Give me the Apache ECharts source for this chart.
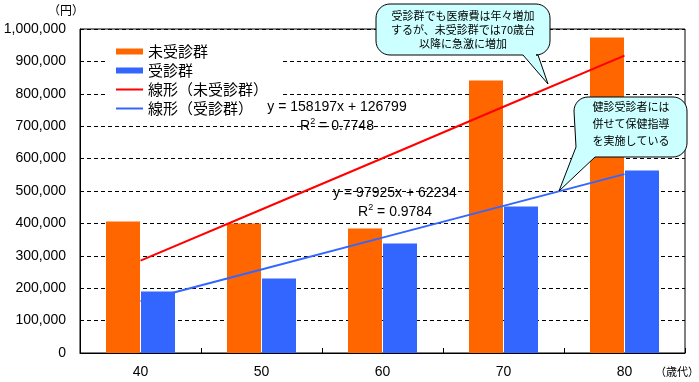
<!DOCTYPE html>
<html><head><meta charset="utf-8">
<script src="https://cdn.jsdelivr.net/npm/echarts@6/dist/echarts.min.js"></script>
<style>html,body{margin:0;padding:0;background:#fff}#c{width:699px;height:382px}</style>
</head><body><div id="c"></div>
<script>
// ---- data ----
const categories = ['40', '50', '60', '70', '80'];
const unexamined = [406000, 400000, 384000, 841000, 974000];
const examined = [190000, 230000, 338000, 452000, 563000];
const trendUnexamined = [285000, 443000, 601000, 760000, 918000];
const trendExamined = [160000, 258000, 356000, 454000, 552000];
const seriesNames = ['未受診群', '受診群', '線形（未受診群）', '線形（受診群）'];
const yMin = 0, yMax = 1000000, yStep = 100000;
const yUnit = '（円）';
const xUnit = '（歳代）';
const eqUnexamined = ['y = 158197x + 126799', '0.7748'];
const eqExamined = ['y = 97925x + 62234', '0.9784'];
const note1 = ['受診群でも医療費は年々増加', 'するが、未受診群では70歳台', '以降に急激に増加'];
const note2 = ['健診受診者には', '併せて保健指導', 'を実施している'];

const JP = '"Noto Sans CJK JP", sans-serif';
const NUM = '"Liberation Sans", Arial, sans-serif';

function commas(v) { return String(v).replace(/\B(?=(\d{3})+(?!\d))/g, ','); }

function arc(cx, cy, r, a0, a1) {
  const pts = [];
  const n = 8;
  for (let i = 0; i <= n; i++) {
    const a = (a0 + (a1 - a0) * i / n) * Math.PI / 180;
    pts.push([cx + r * Math.cos(a), cy + r * Math.sin(a)]);
  }
  return pts;
}

function bubble1() {
  const x0 = 376, y0 = 4, x1 = 550, y1 = 55, r = 14;
  return [].concat(
    arc(x1 - r, y0 + r, r, -90, 0),
    arc(x1 - r, y1 - r, r, 0, 90),
    [[538, y1], [548, 84], [523, y1]],
    arc(x0 + r, y1 - r, r, 90, 180),
    arc(x0 + r, y0 + r, r, 180, 270)
  );
}
function bubble2() {
  const x0 = 574, y0 = 97, x1 = 687, y1 = 157, r = 14;
  return [].concat(
    arc(x1 - r, y0 + r, r, -90, 0),
    arc(x1 - r, y1 - r, r, 0, 90),
    [[595, y1], [559, 191], [576, 147]],
    arc(x0 + r, y0 + r, r, 180, 270)
  );
}

const chart = echarts.init(document.getElementById('c'), null, {renderer: 'canvas'});

function eqText(x, y, lines) {
  return [
    {type: 'text', x: x, y: y, z: 50, style: {text: lines[0], font: '14px ' + NUM, fill: '#000', align: 'center', verticalAlign: 'middle'}},
    {type: 'text', x: x, y: y + 19, z: 50, style: {
      text: '{a|R}{s|2}{a| = ' + lines[1] + '}', align: 'center', verticalAlign: 'middle',
      rich: {a: {fontSize: 14, fontFamily: NUM, color: '#000'}, s: {fontSize: 9, fontFamily: NUM, color: '#000', verticalAlign: 'top', lineHeight: 18}}
    }}
  ];
}

function noteText(x, ys, lines) {
  return lines.map((t, i) => ({type: 'text', x: x, y: ys[i], z: 61, style: {text: t, font: '11px ' + JP, fill: '#000', align: 'center', verticalAlign: 'middle'}}));
}

const lineIcon = 'path://M0,0H27V2H0Z';

const option = {
  animation: false,
  backgroundColor: '#fff',
  grid: {left: 80, right: 14, top: 29, bottom: 29, show: true, borderColor: '#000', borderWidth: 1, backgroundColor: 'transparent'},
  legend: {
    orient: 'vertical', left: 106, top: 38, padding: [6, 12, 6, 10], backgroundColor: '#fff',
    itemWidth: 27, itemHeight: 6, itemGap: 4, symbolKeepAspect: true,
    textStyle: {fontSize: 15, fontFamily: JP, color: '#000'},
    data: [
      {name: seriesNames[0], icon: 'rect'},
      {name: seriesNames[1], icon: 'rect'},
      {name: seriesNames[2], icon: lineIcon},
      {name: seriesNames[3], icon: lineIcon}
    ]
  },
  xAxis: {
    type: 'category', data: categories,
    axisLine: {lineStyle: {color: '#000', width: 1}},
    axisTick: {show: true, inside: true, length: 5, lineStyle: {color: '#000'}},
    axisLabel: {color: '#000', fontSize: 14, fontFamily: NUM, margin: 12},
    splitLine: {show: false}
  },
  yAxis: {
    type: 'value', min: yMin, max: yMax, interval: yStep,
    axisLine: {show: true, lineStyle: {color: '#000', width: 1}},
    axisTick: {show: false},
    axisLabel: {color: '#000', fontSize: 14, fontFamily: NUM, margin: 14, formatter: v => commas(v)},
    splitLine: {show: true, lineStyle: {color: '#000', type: [4, 3], width: 1}}
  },
  series: [
    {name: seriesNames[0], type: 'bar', data: unexamined, barWidth: 34, barGap: '3%', itemStyle: {color: '#ff6600'}, z: 2},
    {name: seriesNames[1], type: 'bar', data: examined, barWidth: 34, barGap: '3%', itemStyle: {color: '#3366ff'}, z: 2},
    {name: seriesNames[2], type: 'line', data: trendUnexamined, symbol: 'none', lineStyle: {color: '#ff0000', width: 2}, itemStyle: {color: '#ff0000'}, z: 5},
    {name: seriesNames[3], type: 'line', data: trendExamined, symbol: 'none', lineStyle: {color: '#3366ff', width: 2}, itemStyle: {color: '#3366ff'}, z: 5}
  ],
  graphic: [
    {type: 'text', x: 66, y: 10, style: {text: yUnit, font: '12px ' + JP, fill: '#000', align: 'center', verticalAlign: 'middle'}},
    {type: 'text', x: 677, y: 372, style: {text: xUnit, font: '11px ' + JP, fill: '#000', align: 'center', verticalAlign: 'middle'}},
    ...eqText(337, 107, eqUnexamined),
    ...eqText(395, 193, eqExamined),
    {type: 'polygon', z: 60, shape: {points: bubble1()}, style: {fill: '#ccffff', stroke: '#000', lineWidth: 1}},
    ...noteText(463, [16, 30, 44], note1),
    {type: 'polygon', z: 60, shape: {points: bubble2()}, style: {fill: '#ccffff', stroke: '#000', lineWidth: 1}},
    ...noteText(631, [107, 124, 141], note2)
  ]
};
chart.setOption(option);
</script>
</body></html>
